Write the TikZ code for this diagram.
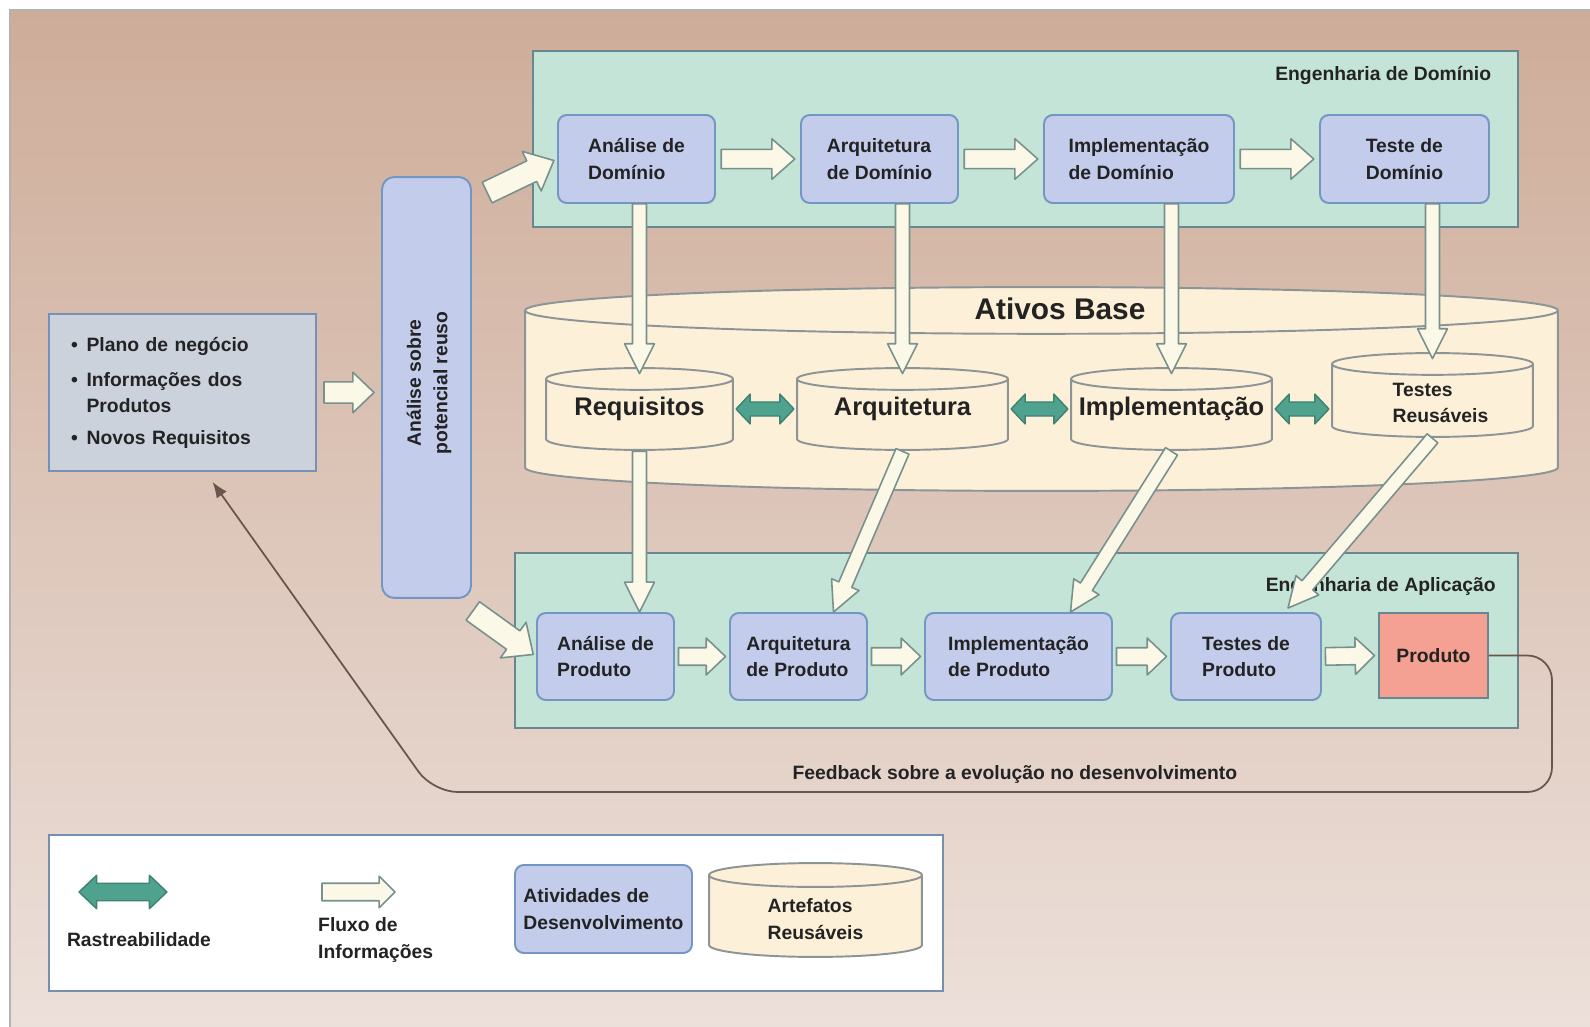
\documentclass[tikz,border=0pt]{standalone}
\usepackage{fontspec}
\setmainfont{Liberation Sans}
\usetikzlibrary{calc,positioning,shapes.geometric,arrows.meta}

\definecolor{fundoA}{RGB}{206,172,153}
\definecolor{fundoB}{RGB}{236,224,218}
\definecolor{verdeagua}{RGB}{196,228,215}
\definecolor{bordaverde}{RGB}{105,135,145}
\definecolor{lilas}{RGB}{196,204,236}
\definecolor{bordalilas}{RGB}{115,150,195}
\definecolor{creme}{RGB}{253,240,216}
\definecolor{bordacreme}{RGB}{140,148,150}
\definecolor{setaclara}{RGB}{252,248,232}
\definecolor{bordaseta}{RGB}{120,145,140}
\definecolor{turquesa}{RGB}{78,162,142}
\definecolor{cinzaazul}{RGB}{203,210,220}
\definecolor{salmao}{RGB}{244,160,146}
\definecolor{marrom}{RGB}{105,85,75}
\definecolor{texto}{RGB}{35,35,35}

\tikzset{haste/.store in=\haste, cabeca/.store in=\cabeca,
  ponta/.store in=\ponta, folga/.store in=\folga, raio/.store in=\raio,
  haste=5, cabeca=11, ponta=13, folga=3, raio=6}

% seta larga (fluxo de informacoes)
\newcommand{\fluxo}[3][]{%
  \draw[fluxo,#1] let \p1=($#2!\folga pt!#3$), \p2=($#3!\folga pt!#2$),
    \p3=($(\p2)!\ponta pt!(\p1)$) in
    ($(\p1)!\haste pt!90:(\p2)$) -- ($(\p3)!\haste pt!90:(\p2)$)
    -- ($(\p3)!\cabeca pt!90:(\p2)$) -- (\p2)
    -- ($(\p3)!\cabeca pt!-90:(\p2)$) -- ($(\p3)!\haste pt!-90:(\p2)$)
    -- ($(\p1)!\haste pt!-90:(\p2)$) -- cycle;}

% seta dupla (rastreabilidade)
\newcommand{\rastro}[3][]{%
  \draw[rastro,#1] let \p1=($#2!\folga pt!#3$), \p2=($#3!\folga pt!#2$),
    \p3=($(\p1)!\ponta pt!(\p2)$), \p4=($(\p2)!\ponta pt!(\p1)$) in
    (\p1) -- ($(\p3)!\cabeca pt!90:(\p2)$) -- ($(\p3)!\haste pt!90:(\p2)$)
    -- ($(\p4)!\haste pt!-90:(\p1)$) -- ($(\p4)!\cabeca pt!-90:(\p1)$) -- (\p2)
    -- ($(\p4)!\cabeca pt!90:(\p1)$) -- ($(\p4)!\haste pt!90:(\p1)$)
    -- ($(\p3)!\haste pt!-90:(\p2)$) -- ($(\p3)!\cabeca pt!-90:(\p2)$) -- cycle;}

\begin{document}
\begin{tikzpicture}[x=0.02cm, y=-0.02cm,
  every node/.style={font=\bfseries\fontsize{11}{15}\selectfont, text=texto},
  conjunto/.style={draw=bordaverde, fill=verdeagua, line width=1.2pt},
  atividade/.style={draw=bordalilas, fill=lilas, line width=1.1pt, rounded corners=5pt, align=left, inner sep=2pt},
  cilindro/.style={rectangle, inner sep=1pt, path picture={
    \path[draw=bordacreme, fill=creme, line width=1.1pt]
      let \p1=([shift={(0.6pt,-0.6pt)}]path picture bounding box.north west),
          \p2=([shift={(-0.6pt,0.6pt)}]path picture bounding box.south east),
          \n1={(\x2-\x1)/2}, \n2={\raio} in
      (\x1,{\y1-\n2*1pt}) -- (\x1,{\y2+\n2*1pt})
      arc[start angle=180, end angle=360, x radius={\n1*1pt}, y radius={\n2*1pt}]
      -- (\x2,{\y1-\n2*1pt})
      arc[start angle=0, end angle=180, x radius={\n1*1pt}, y radius={\n2*1pt}] -- cycle
      (\x1,{\y1-\n2*1pt})
      arc[start angle=180, end angle=360, x radius={\n1*1pt}, y radius={\n2*1pt}];}},
  fluxo/.style={draw=bordaseta, fill=setaclara, line width=0.9pt, line join=round},
  rastro/.style={draw=turquesa!80!black, fill=turquesa, line width=0.8pt, line join=round, haste=4, cabeca=8.5, ponta=8, folga=1},
  retorno/.style={draw=marrom, line width=1pt, -{Latex[length=9pt,width=7pt]}},
  rotulo/.style={inner sep=0pt}]
\useasboundingbox (0,0) rectangle (1590,1027);
\fill[white] (0,0) rectangle (1590,1027);
\shade[top color=fundoA, bottom color=fundoB] (10,10) rectangle (1590,1027);
\draw[gray!60, line width=1.2pt] (10,1027) -- (10,10) -- (1590,10);

%% Engenharia de Dominio
\node[conjunto, minimum width=19.7cm, minimum height=3.52cm] (engd) at (1025.5,139) {};
\node[rotulo, below left=0.32cm and 0.55cm of engd.north east] {Engenharia de Domínio};
\node[atividade, minimum width=3.14cm, minimum height=1.76cm] (ad) at (636.5,159) {Análise de\\Domínio};
\node[atividade, minimum width=3.14cm, minimum height=1.76cm] (arqd) at (879.5,159) {Arquitetura\\de Domínio};
\node[atividade, minimum width=3.8cm, minimum height=1.76cm] (impd) at (1139,159) {Implementação\\de Domínio};
\node[atividade, minimum width=3.38cm, minimum height=1.76cm] (ted) at (1404.5,159) {Teste de\\Domínio};

%% Ativos Base
\node[cilindro, raio=13.3, minimum width=20.7cm, minimum height=4.12cm] (ativos) at (1041.5,389) {};
\node[font=\bfseries\fontsize{17}{20}\selectfont] (tab) at (1060,309) {Ativos Base};
\node[cilindro, raio=6.2, minimum width=3.78cm, minimum height=1.68cm, font=\bfseries\fontsize{14.5}{17}\selectfont] (req) at (639.5,409) {Requisitos};
\node[cilindro, raio=6.2, minimum width=4.26cm, minimum height=1.68cm, font=\bfseries\fontsize{14.5}{17}\selectfont] (arq) at (902.5,409) {Arquitetura};
\node[cilindro, raio=6.2, minimum width=4.06cm, minimum height=1.68cm, font=\bfseries\fontsize{14.5}{17}\selectfont] (imp) at (1171.5,409) {Implementação};
\node[cilindro, raio=6.2, minimum width=4.06cm, minimum height=1.72cm] (tes) at (1432.5,395) {};
\node[align=left] (ttes) at ($(tes.center)+(8,8)$) {Testes\\Reusáveis};

%% Entradas
\node[draw=bordalilas!80!gray, fill=cinzaazul, line width=1.1pt, minimum width=5.34cm, minimum height=3.14cm,
  text width=4.46cm, inner xsep=0.44cm, align=left] (inp) at (182.5,392.5)
  {\begin{tabular}{@{}l@{\hspace{5pt}}l@{}}
   \textbullet & Plano de negócio\\[5pt]
   \textbullet & Informações dos\\
               & Produtos\\[3pt]
   \textbullet & Novos Requisitos
   \end{tabular}};
\node[atividade, rounded corners=7pt, minimum width=1.78cm, minimum height=8.42cm] (va) at (426.5,387.5) {};
\node[rotate=90, align=center] (tva) at (429,383) {Análise sobre\\potencial reuso};

%% Engenharia de Aplicacao
\node[conjunto, minimum width=20.06cm, minimum height=3.5cm] (enga) at (1016.5,640.5) {};
\node[rotulo, below left=0.5cm and 0.46cm of enga.north east] {Engenharia de Aplicação};
\node[atividade, minimum width=2.74cm, minimum height=1.74cm] (ap) at (605.5,656.5) {Análise de\\Produto};
\node[atividade, minimum width=2.74cm, minimum height=1.74cm] (arqp) at (798.5,656.5) {Arquitetura\\de Produto};
\node[atividade, minimum width=3.74cm, minimum height=1.74cm] (impp) at (1018.5,656.5) {Implementação\\de Produto};
\node[atividade, minimum width=3cm, minimum height=1.74cm] (tesp) at (1246,656.5) {Testes de\\Produto};
\node[draw=bordaverde, fill=salmao, line width=1.1pt, minimum width=2.18cm, minimum height=1.7cm] (prod) at (1433.5,655.5) {Produto};

%% Fluxos
\fluxo[haste=5.5, cabeca=11.5]{(ad.east)}{(arqd.west)}
\fluxo[haste=5.5, cabeca=11.5]{(arqd.east)}{(impd.west)}
\fluxo[haste=5.5, cabeca=11.5]{(impd.east)}{(ted.west)}
\fluxo[haste=5, cabeca=10.5, ponta=11, folga=2]{(ap.east)}{(arqp.west)}
\fluxo[haste=5, cabeca=10.5, ponta=11, folga=2]{(arqp.east)}{(impp.west)}
\fluxo[haste=5, cabeca=10.5, ponta=11, folga=2]{(impp.east)}{(tesp.west)}
\fluxo[haste=5, cabeca=10.5, ponta=11, folga=2]{(tesp.east)}{(prod.west)}
\fluxo[haste=6, cabeca=11.5, ponta=12, folga=4]{(inp.east)}{(va.west |- inp.east)}
\coordinate (va1) at ($(va.north east)+(12,18)$);
\coordinate (va2) at ($(va.south east)+(-2,10)$);
\fluxo[haste=6.5, cabeca=12.5, ponta=14, folga=2]{(va1)}{(ad.west)}
\fluxo[haste=6.5, cabeca=12.5, ponta=14, folga=2]{(va2)}{(ap.west)}

\foreach \ativ/\cil in {ad/req, arqd/arq, impd/imp, ted/tes}{
  \coordinate (s\cil) at (\cil.north |- \ativ.south);
  \coordinate (e\cil) at ($(\cil.north)+(0,7)$);
  \fluxo[haste=4, cabeca=8.5, ponta=17, folga=0]{(s\cil)}{(e\cil)}
}
\coordinate (pap) at (req.south |- ap.north);
\coordinate (parqp) at ($(arqp.north)+(35,0)$);
\coordinate (pimpp) at ($(impp.north)+(52,0)$);
\coordinate (ptesp) at ($(tesp.north)+(42,-4)$);
\fluxo[haste=4, cabeca=8.5, ponta=17, folga=0]{(req.south)}{(pap)}
\fluxo[haste=4, cabeca=8.5, ponta=17, folga=0]{(arq.south)}{(parqp)}
\fluxo[haste=4, cabeca=8.5, ponta=17, folga=0]{(imp.south)}{(pimpp)}
\fluxo[haste=4, cabeca=8.5, ponta=17, folga=0]{(tes.south)}{(ptesp)}

%% Rastreabilidade
\rastro{(req.east)}{(arq.west)}
\rastro{(arq.east)}{(imp.west)}
\rastro{(imp.east)}{(tes.west |- imp.east)}

%% Feedback
\coordinate (alvo) at ($(inp.south)+(30,10)$);
\draw[retorno, rounded corners=14pt] (prod.east) -- (1552,655.5) -- (1552,792)
  -- node[above=1pt, pos=0.48] (fb) {Feedback sobre a evolução no desenvolvimento} (433,792)
  [rounded corners=38pt] -- (alvo);

%% Legenda
\node[draw=bordalilas!70!gray, fill=white, line width=1.2pt, minimum width=17.88cm, minimum height=3.12cm] (leg) at (496,913) {};
\coordinate (r1) at (79,892);
\coordinate (r2) at (167,892);
\rastro[haste=5, cabeca=9.5, ponta=10, folga=0]{(r1)}{(r2)}
\node (lr) at (139,940) {Rastreabilidade};
\coordinate (f1) at (322,892);
\coordinate (f2) at (395,892);
\fluxo[haste=5, cabeca=9, ponta=9, folga=0]{(f1)}{(f2)}
\node[align=left, anchor=west] (lf) at (312,940) {Fluxo de\\Informações};
\node[atividade, minimum width=3.54cm, minimum height=1.76cm, inner sep=0pt] (la) at (603.5,909) {Atividades de\\Desenvolvimento};
\node[cilindro, raio=6.8, minimum width=4.3cm, minimum height=1.92cm] (lc) at (815.5,910) {};
\node[align=left] (tlc) at ($(lc.center)+(0,9)$) {Artefatos\\Reusáveis};
\end{tikzpicture}
\end{document}
